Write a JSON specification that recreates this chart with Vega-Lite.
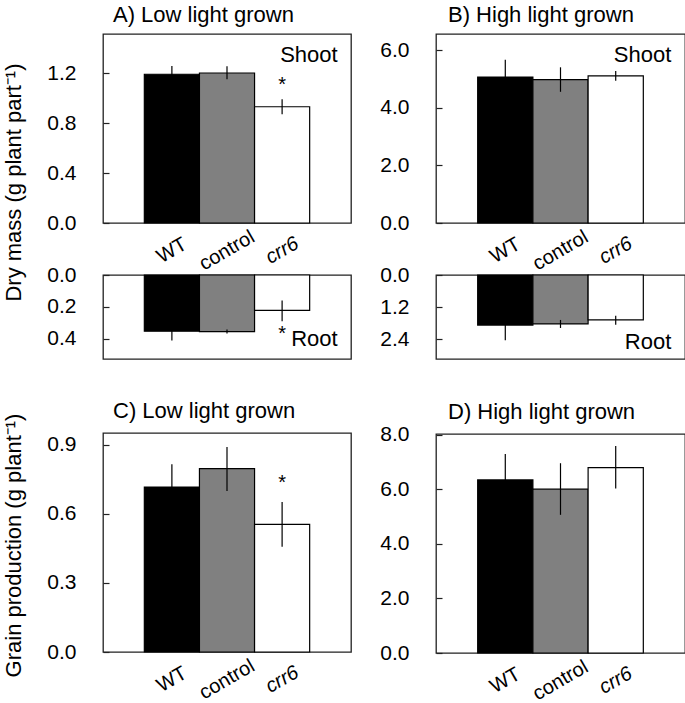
{
  "$schema": "https://vega.github.io/schema/vega-lite/v6.json",
  "background": "#ffffff",
  "padding": {"left": 1, "top": 3, "right": 0, "bottom": 0},
  "config": {
    "font": "Liberation Sans",
    "view": {"stroke": "#222222", "strokeWidth": 1.3},
    "axis": {"grid": false, "labelFont": "Liberation Sans", "labelFontSize": 21, "labelColor": "#000000", "titleFont": "Liberation Sans", "titleFontSize": 22, "titleFontWeight": "normal", "titleColor": "#000000"},
    "axisY": {"domain": false, "tickSize": 6, "offset": -6, "tickColor": "#222222", "tickWidth": 1.2, "labelPadding": 27, "labelAlign": "right", "labelBaseline": "middle", "format": ".1f"},
    "axisX": {"domain": false, "ticks": false, "tickSize": 0, "labelAngle": -30, "labelAlign": "center", "labelBaseline": "middle", "labelPadding": 27, "labelFontSize": 20,
      "labelFontStyle": {"condition": {"test": "datum.value === 'crr6'", "value": "italic"}, "value": "normal"}},
    "title": {"font": "Liberation Sans", "fontSize": 22, "fontWeight": "normal", "anchor": "start", "frame": "group", "color": "#000000", "baseline": "alphabetic"},
    "text": {"font": "Liberation Sans", "color": "#000000"}
  },
  "datasets": {
    "bars": [
      {"p": "As", "g": "WT", "m": 1.19, "lo": 1.13, "hi": 1.256},
      {"p": "As", "g": "control", "m": 1.2, "lo": 1.15, "hi": 1.254},
      {"p": "As", "g": "crr6", "m": 0.93, "lo": 0.87, "hi": 0.99},
      {"p": "Ar", "g": "WT", "m": 0.352, "lo": 0.3, "hi": 0.41},
      {"p": "Ar", "g": "control", "m": 0.354, "lo": 0.341, "hi": 0.367},
      {"p": "Ar", "g": "crr6", "m": 0.222, "lo": 0.159, "hi": 0.289},
      {"p": "Bs", "g": "WT", "m": 5.06, "lo": 4.46, "hi": 5.66},
      {"p": "Bs", "g": "control", "m": 4.97, "lo": 4.55, "hi": 5.4},
      {"p": "Bs", "g": "crr6", "m": 5.1, "lo": 4.93, "hi": 5.27},
      {"p": "Br", "g": "WT", "m": 1.87, "lo": 1.3, "hi": 2.44},
      {"p": "Br", "g": "control", "m": 1.83, "lo": 1.68, "hi": 1.98},
      {"p": "Br", "g": "crr6", "m": 1.68, "lo": 1.52, "hi": 1.86},
      {"p": "C", "g": "WT", "m": 0.717, "lo": 0.618, "hi": 0.816},
      {"p": "C", "g": "control", "m": 0.797, "lo": 0.7, "hi": 0.891},
      {"p": "C", "g": "crr6", "m": 0.555, "lo": 0.457, "hi": 0.652},
      {"p": "D", "g": "WT", "m": 6.34, "lo": 5.39, "hi": 7.29},
      {"p": "D", "g": "control", "m": 6.0, "lo": 5.06, "hi": 6.95},
      {"p": "D", "g": "crr6", "m": 6.79, "lo": 6.02, "hi": 7.58}
    ],
    "txt": [
      {"p": "As", "k": "star", "g": "crr6", "y": 1.116, "t": "*"},
      {"p": "As", "k": "lab", "g": "crr6", "y": 1.288, "t": "Shoot"},
      {"p": "Ar", "k": "star", "g": "crr6", "y": 0.362, "t": "*"},
      {"p": "Ar", "k": "lab", "g": "crr6", "y": 0.447, "t": "Root"},
      {"p": "Bs", "k": "lab", "g": "crr6", "y": 5.57, "t": "Shoot"},
      {"p": "Br", "k": "lab", "g": "crr6", "y": 2.77, "t": "Root"},
      {"p": "C", "k": "star", "g": "crr6", "y": 0.738, "t": "*"}
    ]
  },
  "hconcat": [
    {
      "spacing": 39,
      "vconcat": [
        {
          "spacing": 52,
          "bounds": "flush",
          "vconcat": [
            {
              "width": 248, "height": 189,
              "title": {"text": "A) Low light grown", "offset": 7, "dx": 10},
              "layer": [
                {"data": {"name": "bars"}, "transform": [{"filter": "datum.p == 'As'"}],
                 "mark": {"type": "bar", "stroke": "#000000", "strokeWidth": 1.2},
                 "encoding": {
                   "x": {"field": "g", "type": "nominal", "sort": ["WT", "control", "crr6"], "scale": {"paddingInner": 0, "paddingOuter": 0.75}, "axis": {"title": null}},
                   "y": {"field": "m", "type": "quantitative", "scale": {"domain": [0, 1.512], "nice": false}, "axis": {"values": [0, 0.4, 0.8, 1.2], "title": "Dry mass (g plant part⁻¹)", "titleX": -84, "titleY": 148}},
                   "color": {"field": "g", "type": "nominal", "scale": {"domain": ["WT", "control", "crr6"], "range": ["#000000", "#808080", "#ffffff"]}, "legend": null}}},
                {"data": {"name": "bars"}, "transform": [{"filter": "datum.p == 'As'"}],
                 "mark": {"type": "rule", "color": "#000000", "strokeWidth": 1.2},
                 "encoding": {"x": {"field": "g", "type": "nominal", "sort": ["WT", "control", "crr6"]}, "y": {"field": "lo", "type": "quantitative"}, "y2": {"field": "hi"}}},
                {"data": {"name": "txt"}, "transform": [{"filter": "datum.p == 'As' && datum.k == 'star'"}],
                 "mark": {"type": "text", "fontSize": 20, "baseline": "alphabetic", "dy": 7},
                 "encoding": {"x": {"field": "g", "type": "nominal", "sort": ["WT", "control", "crr6"]}, "y": {"field": "y", "type": "quantitative"}, "text": {"field": "t"}}},
                {"data": {"name": "txt"}, "transform": [{"filter": "datum.p == 'As' && datum.k == 'lab'"}],
                 "mark": {"type": "text", "fontSize": 22, "baseline": "alphabetic", "align": "right", "dx": 28},
                 "encoding": {"x": {"field": "g", "type": "nominal", "sort": ["WT", "control", "crr6"], "bandPosition": 1}, "y": {"field": "y", "type": "quantitative"}, "text": {"field": "t"}}}
              ]
            },
            {
              "width": 248, "height": 84,
              "layer": [
                {"data": {"name": "bars"}, "transform": [{"filter": "datum.p == 'Ar'"}],
                 "mark": {"type": "bar", "stroke": "#000000", "strokeWidth": 1.2},
                 "encoding": {
                   "x": {"field": "g", "type": "nominal", "sort": ["WT", "control", "crr6"], "scale": {"paddingInner": 0, "paddingOuter": 0.75}, "axis": null},
                   "y": {"field": "m", "type": "quantitative", "scale": {"domain": [0, 0.526], "nice": false, "reverse": true}, "axis": {"values": [0, 0.2, 0.4], "title": null}},
                   "color": {"field": "g", "type": "nominal", "scale": {"domain": ["WT", "control", "crr6"], "range": ["#000000", "#808080", "#ffffff"]}, "legend": null}}},
                {"data": {"name": "bars"}, "transform": [{"filter": "datum.p == 'Ar'"}],
                 "mark": {"type": "rule", "color": "#000000", "strokeWidth": 1.2},
                 "encoding": {"x": {"field": "g", "type": "nominal", "sort": ["WT", "control", "crr6"]}, "y": {"field": "lo", "type": "quantitative"}, "y2": {"field": "hi"}}},
                {"data": {"name": "txt"}, "transform": [{"filter": "datum.p == 'Ar' && datum.k == 'star'"}],
                 "mark": {"type": "text", "fontSize": 20, "baseline": "alphabetic", "dy": 7},
                 "encoding": {"x": {"field": "g", "type": "nominal", "sort": ["WT", "control", "crr6"]}, "y": {"field": "y", "type": "quantitative"}, "text": {"field": "t"}}},
                {"data": {"name": "txt"}, "transform": [{"filter": "datum.p == 'Ar' && datum.k == 'lab'"}],
                 "mark": {"type": "text", "fontSize": 22, "baseline": "alphabetic", "align": "right", "dx": 28},
                 "encoding": {"x": {"field": "g", "type": "nominal", "sort": ["WT", "control", "crr6"], "bandPosition": 1}, "y": {"field": "y", "type": "quantitative"}, "text": {"field": "t"}}}
              ]
            }
          ]
        },
        {
          "width": 248, "height": 219,
          "title": {"text": "C) Low light grown", "offset": -10, "dx": 10},
          "layer": [
            {"data": {"name": "bars"}, "transform": [{"filter": "datum.p == 'C'"}],
             "mark": {"type": "bar", "stroke": "#000000", "strokeWidth": 1.2},
             "encoding": {
               "x": {"field": "g", "type": "nominal", "sort": ["WT", "control", "crr6"], "scale": {"paddingInner": 0, "paddingOuter": 0.75}, "axis": {"title": null}},
               "y": {"field": "m", "type": "quantitative", "scale": {"domain": [0, 0.952], "nice": false}, "axis": {"values": [0, 0.3, 0.6, 0.9], "title": "Grain production (g plant⁻¹)", "titleX": -84, "titleY": 112}},
               "color": {"field": "g", "type": "nominal", "scale": {"domain": ["WT", "control", "crr6"], "range": ["#000000", "#808080", "#ffffff"]}, "legend": null}}},
            {"data": {"name": "bars"}, "transform": [{"filter": "datum.p == 'C'"}],
             "mark": {"type": "rule", "color": "#000000", "strokeWidth": 1.2},
             "encoding": {"x": {"field": "g", "type": "nominal", "sort": ["WT", "control", "crr6"]}, "y": {"field": "lo", "type": "quantitative"}, "y2": {"field": "hi"}}},
            {"data": {"name": "txt"}, "transform": [{"filter": "datum.p == 'C' && datum.k == 'star'"}],
             "mark": {"type": "text", "fontSize": 20, "baseline": "alphabetic", "dy": 7},
             "encoding": {"x": {"field": "g", "type": "nominal", "sort": ["WT", "control", "crr6"]}, "y": {"field": "y", "type": "quantitative"}, "text": {"field": "t"}}}
          ]
        }
      ]
    },
    {
      "spacing": 39,
      "vconcat": [
        {
          "spacing": 52,
          "bounds": "flush",
          "vconcat": [
            {
              "width": 249, "height": 189,
              "title": {"text": "B) High light grown", "offset": 7, "dx": 12},
              "layer": [
                {"data": {"name": "bars"}, "transform": [{"filter": "datum.p == 'Bs'"}],
                 "mark": {"type": "bar", "stroke": "#000000", "strokeWidth": 1.2},
                 "encoding": {
                   "x": {"field": "g", "type": "nominal", "sort": ["WT", "control", "crr6"], "scale": {"paddingInner": 0, "paddingOuter": 0.755}, "axis": {"title": null}},
                   "y": {"field": "m", "type": "quantitative", "scale": {"domain": [0, 6.555], "nice": false}, "axis": {"values": [0, 2, 4, 6], "title": null}},
                   "color": {"field": "g", "type": "nominal", "scale": {"domain": ["WT", "control", "crr6"], "range": ["#000000", "#808080", "#ffffff"]}, "legend": null}}},
                {"data": {"name": "bars"}, "transform": [{"filter": "datum.p == 'Bs'"}],
                 "mark": {"type": "rule", "color": "#000000", "strokeWidth": 1.2},
                 "encoding": {"x": {"field": "g", "type": "nominal", "sort": ["WT", "control", "crr6"]}, "y": {"field": "lo", "type": "quantitative"}, "y2": {"field": "hi"}}},
                {"data": {"name": "txt"}, "transform": [{"filter": "datum.p == 'Bs' && datum.k == 'lab'"}],
                 "mark": {"type": "text", "fontSize": 22, "baseline": "alphabetic", "align": "right", "dx": 28},
                 "encoding": {"x": {"field": "g", "type": "nominal", "sort": ["WT", "control", "crr6"], "bandPosition": 1}, "y": {"field": "y", "type": "quantitative"}, "text": {"field": "t"}}}
              ]
            },
            {
              "width": 249, "height": 84,
              "layer": [
                {"data": {"name": "bars"}, "transform": [{"filter": "datum.p == 'Br'"}],
                 "mark": {"type": "bar", "stroke": "#000000", "strokeWidth": 1.2},
                 "encoding": {
                   "x": {"field": "g", "type": "nominal", "sort": ["WT", "control", "crr6"], "scale": {"paddingInner": 0, "paddingOuter": 0.755}, "axis": null},
                   "y": {"field": "m", "type": "quantitative", "scale": {"domain": [0, 3.14], "nice": false, "reverse": true}, "axis": {"values": [0, 1.2, 2.4], "title": null}},
                   "color": {"field": "g", "type": "nominal", "scale": {"domain": ["WT", "control", "crr6"], "range": ["#000000", "#808080", "#ffffff"]}, "legend": null}}},
                {"data": {"name": "bars"}, "transform": [{"filter": "datum.p == 'Br'"}],
                 "mark": {"type": "rule", "color": "#000000", "strokeWidth": 1.2},
                 "encoding": {"x": {"field": "g", "type": "nominal", "sort": ["WT", "control", "crr6"]}, "y": {"field": "lo", "type": "quantitative"}, "y2": {"field": "hi"}}},
                {"data": {"name": "txt"}, "transform": [{"filter": "datum.p == 'Br' && datum.k == 'lab'"}],
                 "mark": {"type": "text", "fontSize": 22, "baseline": "alphabetic", "align": "right", "dx": 28},
                 "encoding": {"x": {"field": "g", "type": "nominal", "sort": ["WT", "control", "crr6"], "bandPosition": 1}, "y": {"field": "y", "type": "quantitative"}, "text": {"field": "t"}}}
              ]
            }
          ]
        },
        {
          "width": 249, "height": 219,
          "title": {"text": "D) High light grown", "offset": 0, "dx": 12},
          "layer": [
            {"data": {"name": "bars"}, "transform": [{"filter": "datum.p == 'D'"}],
             "mark": {"type": "bar", "stroke": "#000000", "strokeWidth": 1.2},
             "encoding": {
               "x": {"field": "g", "type": "nominal", "sort": ["WT", "control", "crr6"], "scale": {"paddingInner": 0, "paddingOuter": 0.755}, "axis": {"title": null}},
               "y": {"field": "m", "type": "quantitative", "scale": {"domain": [0, 8.02], "nice": false}, "axis": {"values": [0, 2, 4, 6, 8], "title": null}},
               "color": {"field": "g", "type": "nominal", "scale": {"domain": ["WT", "control", "crr6"], "range": ["#000000", "#808080", "#ffffff"]}, "legend": null}}},
            {"data": {"name": "bars"}, "transform": [{"filter": "datum.p == 'D'"}],
             "mark": {"type": "rule", "color": "#000000", "strokeWidth": 1.2},
             "encoding": {"x": {"field": "g", "type": "nominal", "sort": ["WT", "control", "crr6"]}, "y": {"field": "lo", "type": "quantitative"}, "y2": {"field": "hi"}}}
          ]
        }
      ]
    }
  ],
  "spacing": 27
}
